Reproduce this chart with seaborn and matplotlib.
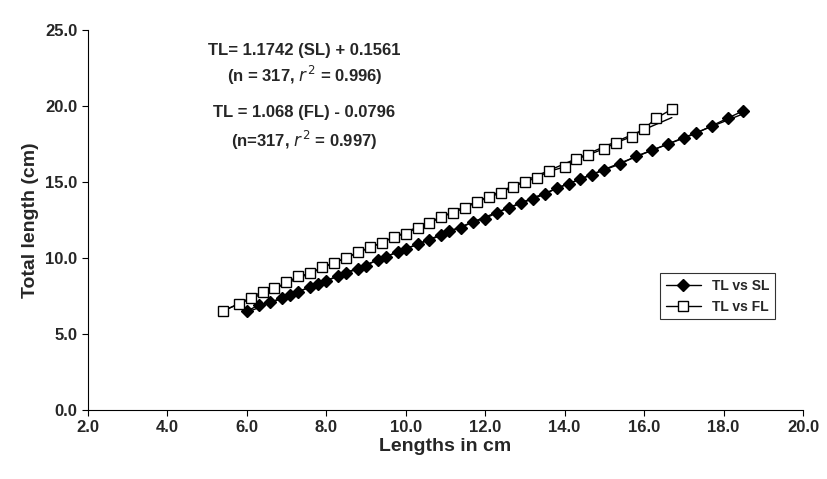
import matplotlib
matplotlib.use("Agg")
import matplotlib.pyplot as plt
import seaborn as sns
import pandas as pd

sl_x = [6.0,6.3,6.6,6.9,7.1,7.3,7.6,7.8,8.0,8.3,8.5,8.8,9.0,9.3,9.5,9.8,10.0,10.3,10.6,10.9,11.1,11.4,11.7,12.0,12.3,12.6,12.9,13.2,13.5,13.8,14.1,14.4,14.7,15.0,15.4,15.8,16.2,16.6,17.0,17.3,17.7,18.1,18.5]
sl_y = [6.5,6.9,7.1,7.4,7.6,7.8,8.1,8.3,8.5,8.8,9.0,9.3,9.5,9.9,10.1,10.4,10.6,10.9,11.2,11.5,11.8,12.0,12.4,12.6,13.0,13.3,13.6,13.9,14.2,14.6,14.9,15.2,15.5,15.8,16.2,16.7,17.1,17.5,17.9,18.2,18.7,19.2,19.7]
fl_x = [5.4,5.8,6.1,6.4,6.7,7.0,7.3,7.6,7.9,8.2,8.5,8.8,9.1,9.4,9.7,10.0,10.3,10.6,10.9,11.2,11.5,11.8,12.1,12.4,12.7,13.0,13.3,13.6,14.0,14.3,14.6,15.0,15.3,15.7,16.0,16.3,16.7]
fl_y = [6.5,7.0,7.4,7.8,8.0,8.4,8.8,9.0,9.4,9.7,10.0,10.4,10.7,11.0,11.4,11.6,12.0,12.3,12.7,13.0,13.3,13.7,14.0,14.3,14.7,15.0,15.3,15.7,16.0,16.5,16.8,17.2,17.6,18.0,18.5,19.2,19.8]

sns.set_style("white")
plt.rcParams['font.family'] = ['Liberation Sans', 'DejaVu Sans']
fig = plt.figure(figsize=(8.27, 4.79), dpi=100)
ax = fig.add_axes([0.106, 0.144, 0.865, 0.793])

sl = pd.DataFrame({"x": sl_x, "y": sl_y})
fl = pd.DataFrame({"x": fl_x, "y": fl_y})
sns.regplot(data=sl, x="x", y="y", scatter=False, ci=None, ax=ax, color="black", line_kws={"lw": 1})
sns.regplot(data=fl, x="x", y="y", scatter=False, ci=None, ax=ax, color="black", line_kws={"lw": 1})
ax.plot(sl_x, sl_y, ls="-", color="black", lw=1, marker="D", ms=6, mfc="black", label="TL vs SL")
ax.plot(fl_x, fl_y, ls="-", color="black", lw=1, marker="s", ms=7, mfc="white", label="TL vs FL")

ax.set_xlim(2, 20)
ax.set_ylim(0, 25)
ax.set_xticks([2,4,6,8,10,12,14,16,18,20])
ax.set_xticklabels([f"{v:.1f}" for v in range(2, 21, 2)])
ax.set_yticks([0,5,10,15,20,25])
ax.set_yticklabels([f"{v:.1f}" for v in range(0, 26, 5)])
for lab in ax.get_xticklabels() + ax.get_yticklabels():
    lab.set_fontweight("bold"); lab.set_fontsize(12)
ax.tick_params(direction="out", length=4, color="black", bottom=True, left=True)
for s in ["top", "right"]:
    ax.spines[s].set_visible(False)
for s in ["left", "bottom"]:
    ax.spines[s].set_color("black")
ax.set_xlabel("Lengths in cm", fontsize=14, fontweight="bold", labelpad=2)
ax.set_ylabel("Total length (cm)", fontsize=14, fontweight="bold")

kw = dict(transform=ax.transAxes, ha="center", va="center", fontsize=12, fontweight="bold")
ax.text(0.303, 0.947, "TL= 1.1742 (SL) + 0.1561", **kw)
ax.text(0.303, 0.882, "(n = 317, $\\mathbf{\\mathit{r}}^{\\,2}$ = 0.996)", **kw)
ax.text(0.303, 0.782, "TL = 1.068 (FL) - 0.0796", **kw)
ax.text(0.303, 0.711, "(n=317, $\\mathbf{\\mathit{r}}^{\\,2}$ = 0.997)", **kw)

leg = ax.legend(loc="center right", bbox_to_anchor=(0.97, 0.3), frameon=True, fancybox=False,
                edgecolor="black", prop={"weight": "bold", "size": 10}, handlelength=2.5)
leg.get_frame().set_linewidth(0.8)
fig.savefig("out.png", dpi=100)
